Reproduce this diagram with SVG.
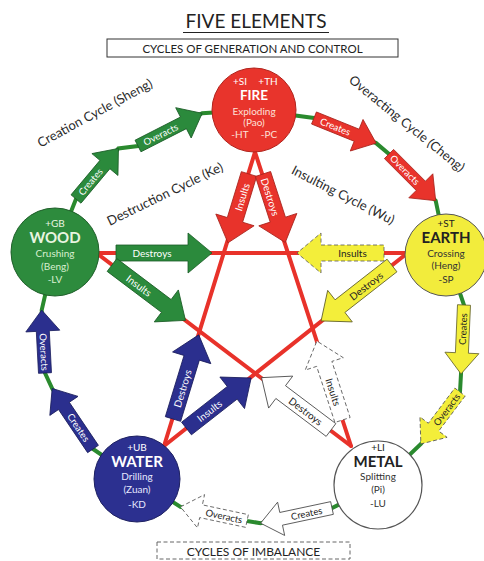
<svg xmlns="http://www.w3.org/2000/svg" width="484" height="561" viewBox="0 0 484 561">
<style>
text{font-family:Lato,"Liberation Sans","DejaVu Sans",sans-serif}
.ln{stroke:#e8322a;stroke-width:4;fill:none;stroke-linecap:round}
.gl{stroke:#2a8a2e;stroke-width:4;fill:none}
.r{fill:#e8332b;stroke:#a8231c;stroke-width:0.8}
.g{fill:#2b8a3c;stroke:#1b5c26;stroke-width:0.8}
.b{fill:#2b2f8e;stroke:#1a1d5c;stroke-width:0.8}
.y{fill:#f3ee3a;stroke:#5e5d28;stroke-width:0.8}
.w{fill:#fff;stroke:#444;stroke-width:0.8}
.d{stroke-dasharray:4 2.5;stroke:#555}
.at{font-size:9.5px;text-anchor:middle;dominant-baseline:central}
.pt{font-size:10px}
.lt{fill:#fff}
.dk{fill:#222}
.cl{font-size:13px;fill:#2a2a2a;text-anchor:middle}
.et{text-anchor:middle;font-size:10px}
.en{text-anchor:middle;font-size:15px;font-weight:bold}
</style>

<!-- titles -->
<g id="title">
<text x="256" y="28" font-size="19" text-anchor="middle" fill="#222">FIVE ELEMENTS</text>
<line x1="183" y1="32.5" x2="329" y2="32.5" stroke="#222" stroke-width="1.2"/>
<rect x="107" y="39" width="291" height="18" fill="#fff" stroke="#333" stroke-width="1"/>
<text x="252.5" y="52.5" font-size="11.5" text-anchor="middle" fill="#222">CYCLES OF GENERATION AND CONTROL</text>
</g>
<g id="bottom-title">
<rect x="157" y="542" width="193" height="17" fill="#fff" stroke="#666" stroke-width="1" stroke-dasharray="4 2.5"/>
<text x="253.5" y="555.5" font-size="12" text-anchor="middle" fill="#222">CYCLES OF IMBALANCE</text>
</g>

<!-- cycle labels -->
<g id="cycle-labels">
<text class="cl" transform="translate(97,117) rotate(-28.5)">Creation Cycle (Sheng)</text>
<text class="cl" transform="translate(167,198) rotate(-26)">Destruction Cycle (Ke)</text>
<text class="cl" transform="translate(404,127) rotate(39)">Overacting Cycle (Cheng)</text>
<text class="cl" transform="translate(341,199) rotate(27)">Insulting Cycle (Wu)</text>
</g>

<!-- connectors -->
<g id="connectors">
<polyline class="gl" points="254,110 314,118 376.1,143.1 389,154 435.7,200.7 447,255"/>
<polyline class="gl" points="447,255 464,305 461,373.9 460,392 420.9,443.9 378,485"/>
<polyline class="gl" points="378,485 332,508 260.6,523.2 247,521 180.5,506.9 137,479"/>
<polyline class="gl" points="137,479 93,449 52.2,388.5 45,373 41.7,310.1 55,252"/>
<polyline class="gl" points="55,252 76,199 118.4,148.4 138,146 202.2,113.3 254,110"/>
<line class="ln" x1="255" y1="152" x2="164" y2="446"/>
<line class="ln" x1="255" y1="152" x2="351" y2="446"/>
<line class="ln" x1="99" y1="253" x2="405" y2="253"/>
<line class="ln" x1="99" y1="255" x2="351" y2="446"/>
<line class="ln" x1="405" y1="255" x2="164" y2="446"/>

<!-- outer cycle arrows -->
<g transform="translate(76,199) rotate(-50)"><polygon class="g" points="0,-6.5 45,-6.5 45,-17 66,0 45,17 45,6.5 0,6.5"/><text class="at lt" x="22.5" y="0">Creates</text></g>
<g transform="translate(138,146) rotate(-27)"><polygon class="g" points="0,-6.5 51,-6.5 51,-17 72,0 51,17 51,6.5 0,6.5"/><text class="at lt" x="25.5" y="0">Overacts</text></g>
<g transform="translate(314,118) rotate(22)"><polygon class="r" points="0,-6.5 46,-6.5 46,-17 67,0 46,17 46,6.5 0,6.5"/><text class="at lt" x="23" y="0">Creates</text></g>
<g transform="translate(389,154) rotate(45)"><polygon class="r" points="0,-6.5 45,-6.5 45,-17 66,0 45,17 45,6.5 0,6.5"/><text class="at lt" x="22.5" y="0">Overacts</text></g>
<g transform="translate(464,305) rotate(92.5)"><polygon class="y" points="0,-6.5 48,-6.5 48,-17 69,0 48,17 48,6.5 0,6.5"/><text class="at dk" x="24" y="0" transform="rotate(180,24,0)">Creates</text></g>
<g transform="translate(460,392) rotate(127)"><polygon class="y d" points="0,-6.5 44,-6.5 44,-17 65,0 44,17 44,6.5 0,6.5"/><text class="at dk" x="22" y="0" transform="rotate(180,22,0)">Overacts</text></g>
<g transform="translate(332,508) rotate(168)"><polygon class="w" points="0,-6.5 52,-6.5 52,-17 73,0 52,17 52,6.5 0,6.5"/><text class="at dk" x="26" y="0" transform="rotate(180,26,0)">Creates</text></g>
<g transform="translate(247,521) rotate(192)"><polygon class="w d" points="0,-6.5 47,-6.5 47,-17 68,0 47,17 47,6.5 0,6.5"/><text class="at dk" x="23.5" y="0" transform="rotate(180,23.5,0)">Overacts</text></g>
<g transform="translate(93,449) rotate(-124)"><polygon class="b" points="0,-6.5 52,-6.5 52,-17 73,0 52,17 52,6.5 0,6.5"/><text class="at lt" x="26" y="0" transform="rotate(180,26,0)">Creates</text></g>
<g transform="translate(45,373) rotate(-93)"><polygon class="b" points="0,-6.5 42,-6.5 42,-17 63,0 42,17 42,6.5 0,6.5"/><text class="at lt" x="21" y="0" transform="rotate(180,21,0)">Overacts</text></g>

<!-- star arrows -->
<g transform="translate(249,174) rotate(107)"><polygon class="r" points="0,-8 48,-8 48,-20 72,0 48,20 48,8 0,8"/><text class="at pt lt" x="24" y="0" transform="rotate(180,24,0)">Insults</text></g>
<g transform="translate(263,174) rotate(72)"><polygon class="r" points="0,-8 48,-8 48,-20 72,0 48,20 48,8 0,8"/><text class="at pt lt" x="24" y="0">Destroys</text></g>
<g transform="translate(116,253)"><polygon class="g" points="0,-8 72,-8 72,-20 96,0 72,20 72,8 0,8"/><text class="at pt lt" x="36" y="0">Destroys</text></g>
<g transform="translate(112,265) rotate(37)"><polygon class="g" points="0,-8 68,-8 68,-20 92,0 68,20 68,8 0,8"/><text class="at pt lt" x="34" y="0">Insults</text></g>
<g transform="translate(384,253) rotate(180)"><polygon class="y d" points="0,-8 63,-8 63,-20 87,0 63,20 63,8 0,8"/><text class="at pt dk" x="31.5" y="0" transform="rotate(180,31.5,0)">Insults</text></g>
<g transform="translate(392,265.5) rotate(142)"><polygon class="y" points="0,-8 66,-8 66,-20 90,0 66,20 66,8 0,8"/><text class="at pt dk" x="33" y="0" transform="rotate(180,33,0)">Destroys</text></g>
<g transform="translate(173,419) rotate(-73)"><polygon class="b" points="0,-8 64,-8 64,-20 88,0 64,20 64,8 0,8"/><text class="at pt lt" x="32" y="0">Destroys</text></g>
<g transform="translate(186.5,428.5) rotate(-38)"><polygon class="b" points="0,-8 58,-8 58,-20 82,0 58,20 58,8 0,8"/><text class="at pt lt" x="29" y="0">Insults</text></g>
<g transform="translate(331,430) rotate(217)"><polygon class="w" points="0,-8 63,-8 63,-20 87,0 63,20 63,8 0,8"/><text class="at pt dk" x="31.5" y="0" transform="rotate(180,31.5,0)">Destroys</text></g>
<g transform="translate(342.5,420) rotate(252)"><polygon class="w d" points="0,-8 59,-8 59,-20 83,0 59,20 59,8 0,8"/><text class="at pt dk" x="29.5" y="0" transform="rotate(180,29.5,0)">Insults</text></g>
</g>

<!-- nodes -->
<g id="fire">
<circle cx="254" cy="110" r="42" fill="#e8342c" stroke="#b0231c" stroke-width="1"/>
<text class="et" x="240" y="85" fill="#fff">+SI</text>
<text class="et" x="268" y="85" fill="#fff">+TH</text>
<text x="254" y="100" text-anchor="middle" font-size="13.5" font-weight="bold" fill="#fff">FIRE</text>
<text class="et" x="254" y="115" fill="#fde0d8">Exploding</text>
<text class="et" x="254" y="126" fill="#fde0d8">(Pao)</text>
<text class="et" x="240" y="138" fill="#fde0d8">-HT</text>
<text class="et" x="269" y="138" fill="#fde0d8">-PC</text>
</g>
<g id="wood">
<circle cx="55" cy="252" r="44" fill="#2d8b3d" stroke="#1f5f2a" stroke-width="1"/>
<text class="et" x="55" y="227" fill="#e8f5e0">+GB</text>
<text class="en" x="55" y="243" fill="#e8f5e0">WOOD</text>
<text class="et" x="55" y="257" fill="#d8efd0">Crushing</text>
<text class="et" x="55" y="270" fill="#d8efd0">(Beng)</text>
<text class="et" x="55" y="283" fill="#d8efd0">-LV</text>
</g>
<g id="earth">
<circle cx="446" cy="255" r="41" fill="#f2ec3c" stroke="#555" stroke-width="1"/>
<text class="et" x="446" y="227" fill="#222">+ST</text>
<text class="en" x="446" y="243" fill="#222">EARTH</text>
<text class="et" x="446" y="257" fill="#333">Crossing</text>
<text class="et" x="446" y="269" fill="#333">(Heng)</text>
<text class="et" x="446" y="283" fill="#333">-SP</text>
</g>
<g id="water">
<circle cx="137" cy="479" r="43" fill="#2c3090" stroke="#1c1f60" stroke-width="1"/>
<text class="et" x="137" y="451" fill="#fff">+UB</text>
<text class="en" x="137" y="467" fill="#fff">WATER</text>
<text class="et" x="137" y="480" fill="#e6e8ff">Drilling</text>
<text class="et" x="137" y="493" fill="#e6e8ff">(Zuan)</text>
<text class="et" x="137" y="508" fill="#e6e8ff">-KD</text>
</g>
<g id="metal">
<circle cx="378" cy="485" r="44" fill="#fff" stroke="#555" stroke-width="1.2"/>
<text class="et" x="378" y="451" fill="#222">+LI</text>
<text class="en" x="378" y="467" fill="#222">METAL</text>
<text class="et" x="378" y="480" fill="#333">Splitting</text>
<text class="et" x="378" y="493" fill="#333">(Pi)</text>
<text class="et" x="378" y="507" fill="#333">-LU</text>
</g>
</svg>
